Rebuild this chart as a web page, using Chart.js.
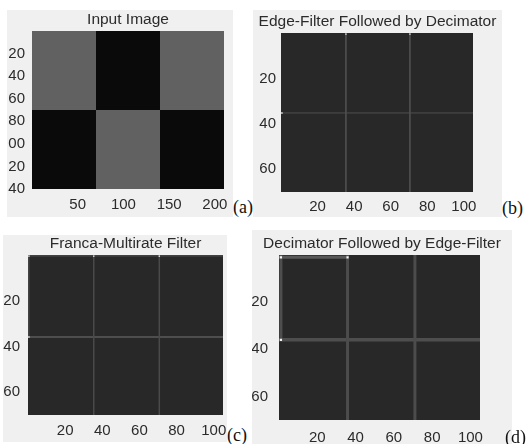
<!DOCTYPE html>
<html>
<head>
<meta charset="utf-8">
<script src="https://cdn.jsdelivr.net/npm/chart.js@4.4.1/dist/chart.umd.min.js"></script>
<style>
body { margin: 0; background: #fff; width: 527px; height: 444px; overflow: hidden; position: relative; }
.panel { position: absolute; background: #f0f0f0; }
.panel canvas { display: block; }
.tag { position: absolute; font-family: "Liberation Serif", "Times New Roman", serif; font-size: 18px; line-height: 18px; color: #111; white-space: nowrap; }
</style>
</head>
<body>
<div class="panel" style="left:7px;top:10px;width:226px;height:207px"><canvas id="chartA" width="226" height="207"></canvas></div>
<div class="panel" style="left:253px;top:10px;width:249px;height:207px"><canvas id="chartB" width="249" height="207"></canvas></div>
<div class="panel" style="left:3px;top:235px;width:224px;height:207px"><canvas id="chartC" width="224" height="207"></canvas></div>
<div class="panel" style="left:252px;top:230px;width:260px;height:214px"><canvas id="chartD" width="260" height="214"></canvas></div>
<div class="tag" style="left:233px;top:198px">(a)</div>
<div class="tag" style="left:502px;top:199px">(b)</div>
<div class="tag" style="left:227px;top:426px">(c)</div>
<div class="tag" style="left:505px;top:428px">(d)</div>
<script>
// input image: 210 x 140, 3x2 blocks
const inputColEdges = [0, 70, 140, 210];
const inputRowEdges = [0, 70, 140];
const inputLevels = [
    [97, 10, 97],
    [10, 97, 10]
];
const inputXTicks = [50, 100, 150, 200];
const inputYTicks = [20, 40, 60, 80, 100, 120, 140];
const inputYLabels = ['20', '40', '60', '80', '00', '20', '40']; // leading "1" is cut off in the figure

// the three filtered images are 105 x 70
const outWidth = 105;
const outHeight = 70;
const outLevel = 40;
const outXTicks = [20, 40, 60, 80, 100];
const outYTicks = [20, 40, 60];

// edge segments [x0, y0, x1, y1], their grey level, and bright pixels [x, y]
const edgesB = [[35.5, 0, 35.5, 70], [70.5, 0, 70.5, 70], [0, 35.2, 105, 35.2]];
const edgeLevelsB = [78, 78, 80];
const dotsB = [[35.5, 0.5], [70.5, 0.5], [0.5, 35.2]];

const edgesC = [[35.4, 0, 35.4, 70], [70.7, 0, 70.7, 70], [0, 35.9, 105, 35.9], [0, 0.4, 105, 0.4], [0.4, 0, 0.4, 35.9]];
const edgeLevelsC = [74, 74, 78, 85, 68];
const dotsC = [[0.5, 0.5], [35.4, 0.5], [70.7, 0.5], [0.5, 35.9]];

const edgesD = [[35.8, 0, 35.8, 70], [71, 0, 71, 70], [0, 36, 105, 36], [0, 1, 35.8, 1], [1, 0, 1, 36]];
const edgeLevelsD = [76, 76, 78, 88, 78];
const dotsD = [[1, 1], [35.8, 1], [1, 36]];

const fontFamily = '"Liberation Sans", Arial, Helvetica, sans-serif';
const textColor = '#2b2b2b';
const titleSize = 15.5;
const tickSize = 15;

function gray(v) {
    return `rgb(${v}, ${v}, ${v})`;
}

// a filled cell from x0..x1, y0..y1 in data units
function cell(x0, x1, y0, y1, level) {
    return {
        data: [{ x: x0, y: y0 }, { x: x1, y: y0 }],
        fill: { value: y1 },
        backgroundColor: gray(level),
        borderColor: 'transparent',
        borderWidth: 0,
        pointRadius: 0,
        order: 10
    };
}

function segment(seg, level, width) {
    return {
        data: [{ x: seg[0], y: seg[1] }, { x: seg[2], y: seg[3] }],
        fill: false,
        borderColor: gray(level),
        borderWidth: width,
        pointRadius: 0,
        order: 5
    };
}

function dots(list, size) {
    return {
        data: list.map(p => ({ x: p[0], y: p[1] })),
        showLine: false,
        pointStyle: 'rect',
        pointRadius: size,
        pointBackgroundColor: '#f4f4f4',
        pointBorderWidth: 0,
        order: 1
    };
}

function drawPanel(id, cfg) {
    const titleLineH = titleSize * 1.2;
    const tickLineH = tickSize * 1.2;
    const titleTop = cfg.titleCenter - titleLineH / 2;
    const titleBottom = cfg.chartTop - titleLineH - titleTop;
    const ctx = document.getElementById(id).getContext('2d');
    return new Chart(ctx, {
        type: 'line',
        data: { datasets: cfg.datasets },
        options: {
            responsive: false,
            animation: false,
            devicePixelRatio: 1,
            layout: { padding: 0 },
            plugins: {
                legend: { display: false },
                tooltip: { enabled: false },
                title: {
                    display: true,
                    text: cfg.title,
                    color: textColor,
                    fullSize: cfg.titleFull,
                    font: { family: fontFamily, size: titleSize, weight: 'normal' },
                    padding: { top: titleTop, bottom: titleBottom }
                }
            },
            scales: {
                x: {
                    type: 'linear',
                    min: 0,
                    max: cfg.width,
                    grid: { display: false, drawTicks: false },
                    border: { display: false },
                    afterBuildTicks: s => { s.ticks = cfg.xTicks.map(v => ({ value: v })); },
                    ticks: {
                        color: textColor,
                        font: { family: fontFamily, size: tickSize },
                        padding: cfg.xLabelOffset - tickLineH / 2,
                        maxRotation: 0,
                        autoSkip: false,
                        callback: v => String(v)
                    },
                    afterFit: s => { s.height = cfg.xAxisH; s.paddingLeft = 0; s.paddingRight = 0; }
                },
                y: {
                    type: 'linear',
                    reverse: true,
                    min: 0,
                    max: cfg.height,
                    grid: { display: false, drawTicks: false },
                    border: { display: false },
                    afterBuildTicks: s => { s.ticks = cfg.yTicks.map(v => ({ value: v })); },
                    ticks: {
                        color: textColor,
                        font: { family: fontFamily, size: tickSize },
                        padding: cfg.yPad,
                        autoSkip: false,
                        callback: (v, i) => cfg.yLabels[i]
                    },
                    afterFit: s => { s.width = cfg.yAxisW; s.paddingTop = 0; s.paddingBottom = 0; }
                },
                // empty axis that only keeps the right margin
                side: {
                    type: 'linear',
                    position: 'right',
                    grid: { display: false, drawTicks: false },
                    border: { display: false },
                    ticks: { display: false },
                    afterFit: s => { s.width = cfg.padRight; s.paddingTop = 0; s.paddingBottom = 0; }
                }
            }
        }
    });
}

function filteredDatasets(edges, levels, points, lineW, dotSize) {
    const sets = [cell(0, outWidth, 0, outHeight, outLevel)];
    edges.forEach((seg, i) => sets.push(segment(seg, levels[i], lineW[i])));
    sets.push(dots(points, dotSize));
    return sets;
}

// (a) input image
const inputSets = [];
for (let r = 0; r < inputRowEdges.length - 1; r++) {
    for (let c = 0; c < inputColEdges.length - 1; c++) {
        inputSets.push(cell(inputColEdges[c], inputColEdges[c + 1], inputRowEdges[r], inputRowEdges[r + 1], inputLevels[r][c]));
    }
}

drawPanel('chartA', {
    title: 'Input Image', titleFull: false, titleCenter: 10, chartTop: 21,
    width: 210, height: 140, xTicks: inputXTicks, yTicks: inputYTicks, yLabels: inputYLabels,
    yAxisW: 25, padRight: 9, xAxisH: 28, yPad: 7, xLabelOffset: 16,
    datasets: inputSets
});

drawPanel('chartB', {
    title: 'Edge-Filter Followed by Decimator', titleFull: true, titleCenter: 12, chartTop: 23,
    width: outWidth, height: outHeight, xTicks: outXTicks, yTicks: outYTicks, yLabels: outYTicks.map(String),
    yAxisW: 28, padRight: 29, xAxisH: 25, yPad: 5, xLabelOffset: 15,
    datasets: filteredDatasets(edgesB, edgeLevelsB, dotsB, [1, 1, 1], 1)
});

drawPanel('chartC', {
    title: 'Franca-Multirate Filter', titleFull: false, titleCenter: 9, chartTop: 20,
    width: outWidth, height: outHeight, xTicks: outXTicks, yTicks: outYTicks, yLabels: outYTicks.map(String),
    yAxisW: 25, padRight: 2, xAxisH: 27, yPad: 8, xLabelOffset: 16,
    datasets: filteredDatasets(edgesC, edgeLevelsC, dotsC, [1.5, 1.5, 2, 1, 1], 1)
});

drawPanel('chartD', {
    title: 'Decimator Followed by Edge-Filter', titleFull: true, titleCenter: 14, chartTop: 25,
    width: outWidth, height: outHeight, xTicks: outXTicks, yTicks: outYTicks, yLabels: outYTicks.map(String),
    yAxisW: 27, padRight: 32, xAxisH: 24, yPad: 11, xLabelOffset: 18,
    datasets: filteredDatasets(edgesD, edgeLevelsD, dotsD, [3, 3, 3.5, 3, 3], 1.6)
});
</script>
</body>
</html>
